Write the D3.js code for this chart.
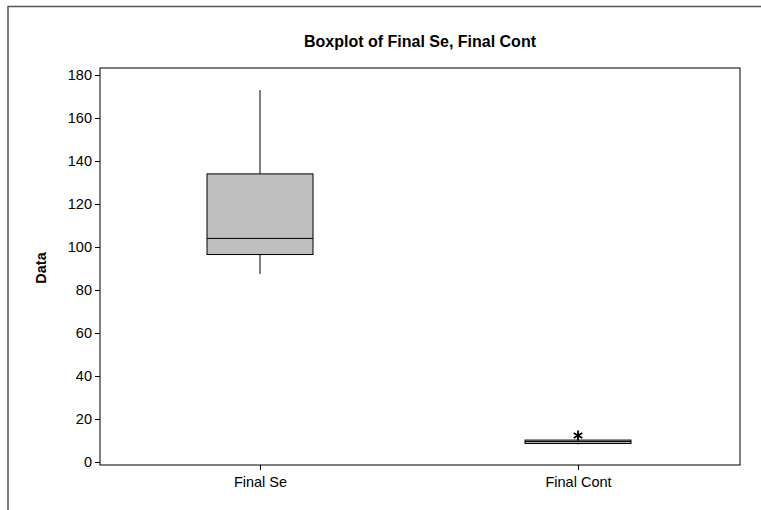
<!DOCTYPE html>
<html><head><meta charset="utf-8">
<script src="https://cdn.jsdelivr.net/npm/d3@7"></script>
<style>body{margin:0;background:#fff;overflow:hidden}text{font-family:Arial,"Liberation Sans",sans-serif}</style>
</head><body><div id="chart"></div>
<script>
const categories = ["Final Se", "Final Cont"];
const whiskerLow = [87.5, 8.2];
const q1 = [96.5, 8.6];
const median = [104, 9.5];
const q3 = [134, 10.2];
const whiskerHigh = [173, 10.6];
const outliers = [[], [12.3]];
const yTicks = [0, 20, 40, 60, 80, 100, 120, 140, 160, 180];

const W = 761, H = 510;
const m = {left: 100, right: 21, top: 68, bottom: 45};
const svg = d3.select("#chart").append("svg").attr("width", W).attr("height", H).style("display", "block");

svg.append("path").attr("d", `M8,${H}V6.5H${W}`).attr("fill", "none").attr("stroke", "#555").attr("stroke-width", 1.5);

const x = d3.scalePoint().domain(categories).range([260, 578]);
const y = d3.scaleLinear().domain([0, 180]).range([462, 75]);

svg.append("rect").attr("x", m.left).attr("y", m.top)
    .attr("width", W - m.left - m.right).attr("height", H - m.top - m.bottom)
    .attr("fill", "none").attr("stroke", "#000");

const yAxis = svg.append("g").attr("transform", `translate(${m.left},0)`)
    .call(d3.axisLeft(y).tickValues(yTicks).tickSize(5).tickSizeOuter(0));
yAxis.select(".domain").remove();
yAxis.selectAll("text").attr("font-size", 14.5).attr("fill", "#000");

const xb = H - m.bottom;
const xAxis = svg.append("g").attr("transform", `translate(0,${xb})`)
    .call(d3.axisBottom(x).tickSize(5).tickSizeOuter(0));
xAxis.select(".domain").remove();
xAxis.selectAll("text").attr("font-size", 14.5).attr("fill", "#000").attr("dy", "0.95em");

const bw = 106;
categories.forEach((c, i) => {
    const cx = x(c);
    const g = svg.append("g");
    g.append("line").attr("x1", cx).attr("x2", cx).attr("y1", y(whiskerLow[i])).attr("y2", y(q1[i])).attr("stroke", "#000");
    g.append("line").attr("x1", cx).attr("x2", cx).attr("y1", y(q3[i])).attr("y2", y(whiskerHigh[i])).attr("stroke", "#000");
    g.append("rect").attr("x", cx - bw / 2).attr("width", bw)
        .attr("y", y(q3[i])).attr("height", y(q1[i]) - y(q3[i]))
        .attr("fill", "#bfbfbf").attr("stroke", "#000");
    g.append("line").attr("x1", cx - bw / 2).attr("x2", cx + bw / 2)
        .attr("y1", y(median[i])).attr("y2", y(median[i])).attr("stroke", "#000");
    outliers[i].forEach(v => {
        g.append("path").attr("transform", `translate(${cx},${y(v)})`)
            .attr("d", d3.symbol(d3.symbolAsterisk, 70)())
            .attr("fill", "none").attr("stroke", "#000").attr("stroke-width", 1.8);
    });
});

svg.append("text").attr("x", (m.left + W - m.right) / 2).attr("y", 47)
    .attr("text-anchor", "middle").attr("font-size", 16).attr("font-weight", "bold")
    .text("Boxplot of Final Se, Final Cont");
svg.append("text").attr("transform", `translate(46,268) rotate(-90)`)
    .attr("text-anchor", "middle").attr("font-size", 14.5).attr("font-weight", "bold").text("Data");
</script></body></html>
